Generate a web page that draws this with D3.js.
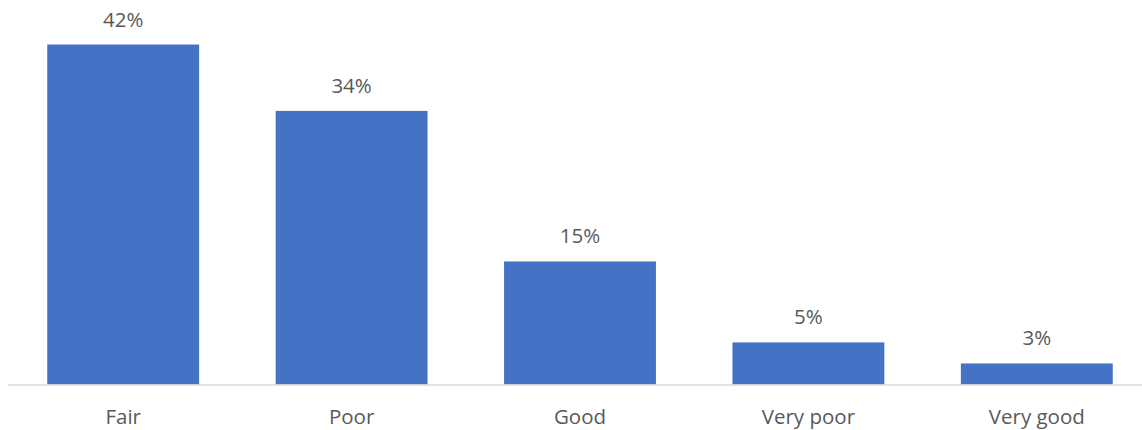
<!DOCTYPE html>
<html>
<head>
<meta charset="utf-8">
<script src="https://cdn.jsdelivr.net/npm/d3@7"></script>
<style>
  body { margin: 0; background: #fff; }
  text { font-family: "Open Sans", "Noto Sans", sans-serif; fill: #595959; }
</style>
</head>
<body>
<div id="chart"></div>
<script>
const categories = ["Fair", "Poor", "Good", "Very poor", "Very good"]
const values = [0.42, 0.338, 0.152, 0.052, 0.026]

const width = 1142, height = 430

const svg = d3.select("#chart")
    .append("svg")
    .attr("width", width)
    .attr("height", height)

const x = d3.scaleBand()
    .domain(categories)
    .range([9, 1151])
    .paddingInner(0.335)
    .paddingOuter(0.1675)

const y = d3.scaleLinear()
    .domain([0, 0.475])
    .range([384.5, 0])

const fmt = d3.format(".0%")

// bars
svg.selectAll("rect.bar")
    .data(categories)
    .join("rect")
    .attr("class", "bar")
    .attr("x", d => x(d))
    .attr("y", (d, i) => y(values[i]))
    .attr("width", x.bandwidth())
    .attr("height", (d, i) => y(0) - y(values[i]))
    .attr("fill", "#4472c4")

// baseline
svg.append("line")
    .attr("x1", 8)
    .attr("x2", width)
    .attr("y1", y(0) + 0.5)
    .attr("y2", y(0) + 0.5)
    .attr("stroke", "#d9d9d9")
    .attr("stroke-width", 1.5)

// value labels
svg.selectAll("text.value")
    .data(categories)
    .join("text")
    .attr("class", "value")
    .attr("x", d => x(d) + x.bandwidth() / 2)
    .attr("y", (d, i) => y(values[i]) - 18)
    .attr("text-anchor", "middle")
    .style("font-size", "20.5px")
    .text((d, i) => fmt(values[i]))

// category labels
svg.selectAll("text.cat")
    .data(categories)
    .join("text")
    .attr("class", "cat")
    .attr("x", d => x(d) + x.bandwidth() / 2)
    .attr("y", 424)
    .attr("text-anchor", "middle")
    .style("font-size", "20.5px")
    .text(d => d)
</script>
</body>
</html>
